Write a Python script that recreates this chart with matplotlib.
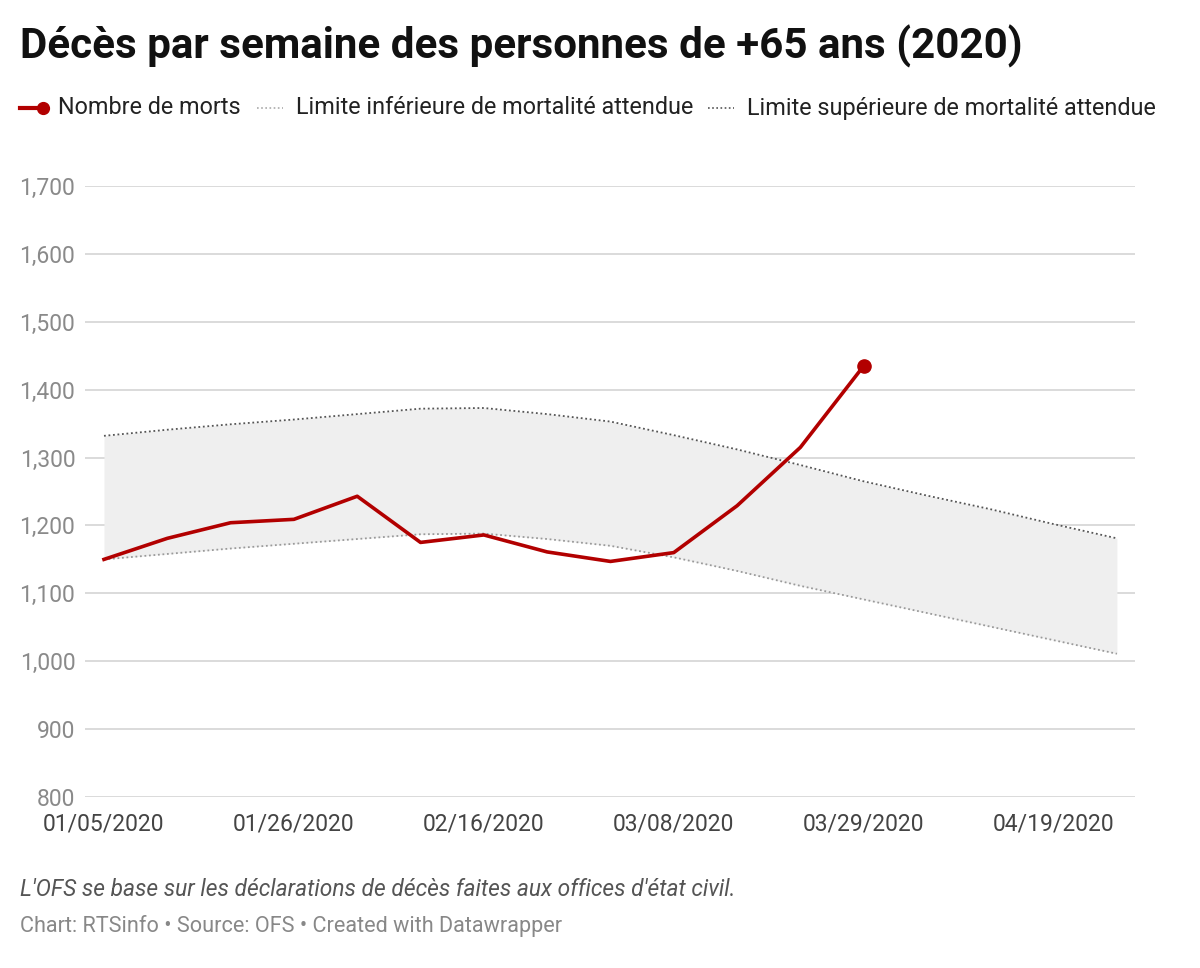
import matplotlib
matplotlib.use("Agg")
import matplotlib.pyplot as plt
import matplotlib.dates as mdates
import numpy as np
from datetime import datetime, timedelta

plt.rcParams['font.family'] = ['Roboto', 'DejaVu Sans']

# ---- data ----
week_labels = ["01/05/2020", "01/12/2020", "01/19/2020", "01/26/2020", "02/02/2020",
               "02/09/2020", "02/16/2020", "02/23/2020", "03/01/2020", "03/08/2020",
               "03/15/2020", "03/22/2020", "03/29/2020", "04/05/2020", "04/12/2020",
               "04/19/2020", "04/26/2020"]
deaths = [1150, 1181, 1204, 1209, 1243, 1175, 1186, 1161, 1147, 1160, 1229, 1315, 1435]
lower_limit = [1150, 1158, 1166, 1173, 1180, 1187, 1188, 1180, 1170, 1153, 1133, 1111,
               1091, 1071, 1051, 1031, 1011]
upper_limit = [1332, 1341, 1349, 1356, 1364, 1372, 1373, 1364, 1353, 1333, 1312, 1289,
               1265, 1244, 1224, 1202, 1181]
xtick_labels = ["01/05/2020", "01/26/2020", "02/16/2020", "03/08/2020", "03/29/2020", "04/19/2020"]
ytick_values = [800, 900, 1000, 1100, 1200, 1300, 1400, 1500, 1600, 1700]

dates = [datetime.strptime(s, "%m/%d/%Y") for s in week_labels]
xd = mdates.date2num(dates)
xt = mdates.date2num([datetime.strptime(s, "%m/%d/%Y") for s in xtick_labels])

W, H = 1200, 968
fig = plt.figure(figsize=(W / 100, H / 100), dpi=100)
ax = fig.add_axes([85 / W, 1 - 797 / H, (1135 - 85) / W, (797 - 186) / H])

RED = "#b20000"
ax.fill_between(xd, lower_limit, upper_limit, color="#efefef", lw=0, zorder=1)
ax.plot(xd, lower_limit, color="#9a9a9a", lw=1.3, ls=(0, (1, 1.5)), zorder=2)
ax.plot(xd, upper_limit, color="#555555", lw=1.3, ls=(0, (1, 1.5)), zorder=2)
ax.plot(xd[:len(deaths)], deaths, color=RED, lw=2.6, zorder=4, solid_joinstyle="round")
ax.plot(xd[len(deaths) - 1], deaths[-1], "o", color=RED, ms=9.5, zorder=5)

ax.set_ylim(800, 1700)
ax.set_xlim(xd[0] - 2.1, xd[-1] + 2.0)
ax.set_yticks(ytick_values)
ax.set_yticklabels([f"{v:,}" for v in ytick_values])
ax.set_xticks(xt)
ax.set_xticklabels(xtick_labels)
ax.grid(axis="y", color="#d4d4d4", lw=1.2, zorder=0)
ax.set_axisbelow(True)
for s in ax.spines.values():
    s.set_visible(False)
ax.tick_params(axis="y", length=0, pad=7, labelsize=16.5, labelcolor="#8a8a8a")
ax.tick_params(axis="x", length=0, pad=11, labelsize=16.5, labelcolor="#444444")

# title
fig.text(20 / W, 1 - 46 / H, "Décès par semaine des personnes de +65 ans (2020)",
         fontsize=30.3, fontweight="bold", color="#111111", va="center", ha="left")

# legend (manual)
ly = 1 - 108 / H
fig.add_artist(plt.Line2D([20 / W, 42 / W], [ly, ly], color=RED, lw=3))
fig.add_artist(plt.Line2D([43 / W], [ly], marker="o", color=RED, ms=8.5))
fig.text(58 / W, ly, "Nombre de morts", fontsize=16.8, color="#222222", va="center", ha="left")
fig.add_artist(plt.Line2D([257 / W, 283 / W], [ly, ly], color="#aaaaaa", lw=1.2, ls=(0, (1, 1.5))))
fig.text(296 / W, ly, "Limite inférieure de mortalité attendue", fontsize=16.8, color="#222222",
         va="center", ha="left")
fig.add_artist(plt.Line2D([708 / W, 734 / W], [ly, ly], color="#555555", lw=1.2, ls=(0, (1, 1.5))))
fig.text(747 / W, ly, "Limite supérieure de mortalité attendue", fontsize=16.8, color="#222222",
         va="center", ha="left")

# footer
fig.text(20 / W, 1 - 890 / H, "L'OFS se base sur les déclarations de décès faites aux offices d'état civil.",
         fontsize=16.4, style="italic", color="#555555", va="center", ha="left")
fig.text(20 / W, 1 - 926 / H, "Chart: RTSinfo • Source: OFS • Created with Datawrapper",
         fontsize=15.6, color="#888888", va="center", ha="left")

fig.savefig("out.png", dpi=100, facecolor="white")
